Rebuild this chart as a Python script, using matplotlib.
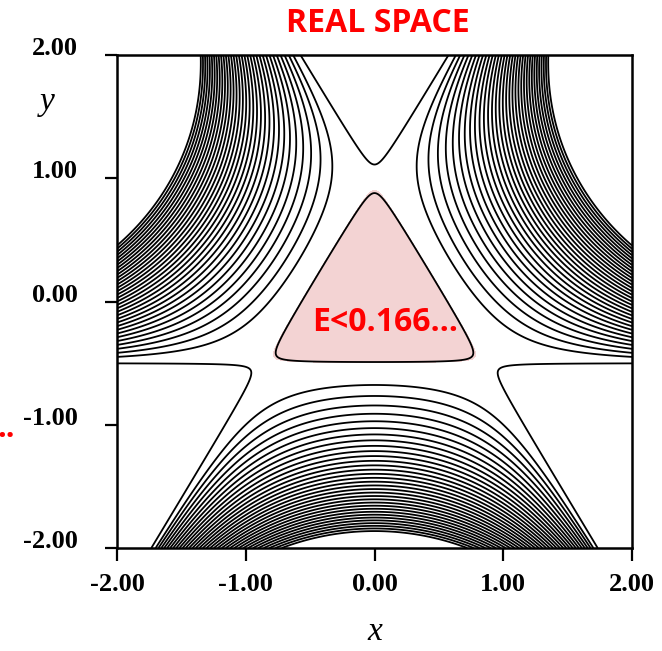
import numpy as np
import matplotlib
matplotlib.use("Agg")
import matplotlib.pyplot as plt

# ---- data ----
x_range = [-2.0, 2.0]
y_range = [-2.0, 2.0]
tick_values = [-2.0, -1.0, 0.0, 1.0, 2.0]
tick_labels = ["-2.00", "-1.00", "0.00", "1.00", "2.00"]
# contour energies (Henon-Heiles potential)
contour_levels = [0.16, 0.333, 0.444, 0.556, 0.667, 0.778, 0.889, 1.0,
                  1.111, 1.222, 1.333, 1.444, 1.556, 1.667, 1.778, 1.889,
                  2.0, 2.111, 2.222, 2.333, 2.444, 2.556, 2.667, 2.778,
                  2.889, 3.0, 3.111, 3.222, 3.333, 3.444, 3.556, 3.667,
                  3.778, 3.889]
fill_level = 0.162
title_text = "REAL SPACE"
region_text = "E<0.166\u2026"

# ---- field ----
xs = np.linspace(x_range[0], x_range[1], 1201)
ys = np.linspace(y_range[0], y_range[1], 1201)
X, Y = np.meshgrid(xs, ys)
V = 0.5 * (X**2 + Y**2) + X**2 * Y - Y**3 / 3.0
inside = (Y > -0.5) & (Y < 1 - np.sqrt(3) * np.abs(X))
V_in = np.where(inside, V, np.nan)

W, H = 662, 651
fig = plt.figure(figsize=(W / 100, H / 100), dpi=100)
ax = fig.add_axes([117 / W, 1 - 548 / H, (632 - 117) / W, (548 - 55) / H])

ax.contourf(X, Y, V_in, levels=[np.nanmin(V_in) - 1, fill_level],
            colors=["#F3D3D3"])
ax.contour(X, Y, V, levels=contour_levels, colors="black", linewidths=1.3)

ax.set_xlim(x_range)
ax.set_ylim(y_range)
ax.set_xticks(tick_values)
ax.set_yticks(tick_values)
ax.set_xticklabels(tick_labels)
ax.set_yticklabels(tick_labels)

serif = ["Liberation Serif", "DejaVu Serif"]
for lab in ax.get_xticklabels() + ax.get_yticklabels():
    lab.set_family(serif)
    lab.set_fontsize(19)
    lab.set_fontweight("bold")
for lab in ax.get_yticklabels():
    lab.set_verticalalignment("baseline")

ax.tick_params(axis="both", direction="out", length=9, width=1.6,
               colors="black")
ax.tick_params(axis="x", pad=9)
ax.tick_params(axis="y", pad=19)
for sp in ax.spines.values():
    sp.set_linewidth(1.8)

fig.text(375 / W, 1 - 632 / H, "x", family=serif, style="italic",
         fontsize=24, ha="center", va="center")
fig.text(47 / W, 1 - 102 / H, "y", family=serif, style="italic",
         fontsize=24, ha="center", va="center")

sans = ["Open Sans", "DejaVu Sans"]
fig.text(378 / W, 1 - 24 / H, title_text, family=sans, fontweight="bold",
         fontsize=23, color="#FF0000", ha="center", va="center")
ax.text(0.08, -0.17, region_text, family=sans, fontweight="bold",
        fontsize=23, color="#FF0000", ha="center", va="center")
fig.text(-0.004, 1 - 437 / H, "..", family=sans, fontweight="bold",
         fontsize=22, color="#FF0000", ha="left", va="baseline")

fig.savefig("out.png", dpi=100)
